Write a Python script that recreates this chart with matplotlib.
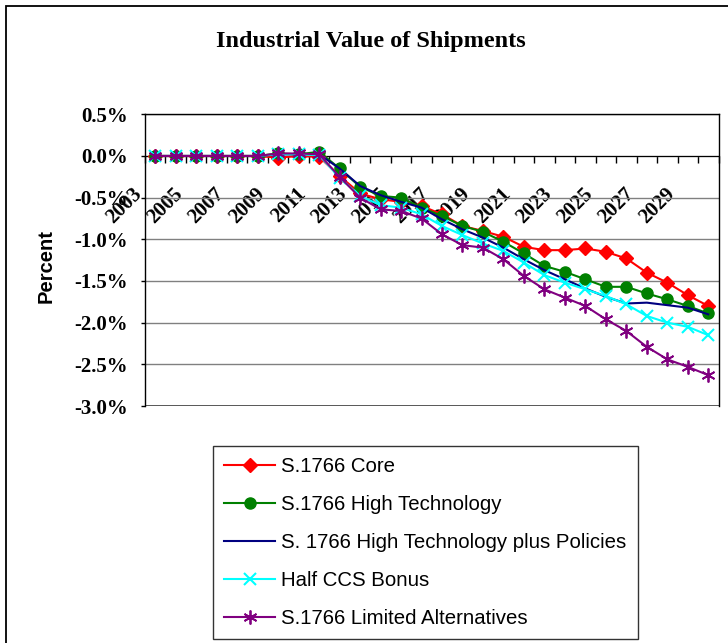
import matplotlib
matplotlib.use('Agg')
import matplotlib.pyplot as plt
from matplotlib.patches import Rectangle
from matplotlib.transforms import ScaledTranslation

# data (percent change)
years = list(range(2003, 2031))
core = [0, 0, 0, 0, 0, 0, -0.02, 0.0, -0.01, -0.24, -0.45, -0.52, -0.55, -0.60,
        -0.70, -0.84, -0.90, -0.97, -1.09, -1.13, -1.13, -1.11, -1.15, -1.23,
        -1.40, -1.52, -1.67, -1.80]
high_tech = [0, 0, 0, 0, 0, 0, 0.03, 0.02, 0.05, -0.15, -0.37, -0.48, -0.50, -0.62,
             -0.72, -0.84, -0.91, -1.03, -1.17, -1.32, -1.39, -1.48, -1.57, -1.57,
             -1.65, -1.72, -1.80, -1.89]
high_tech_pol = [0, 0, 0, 0, 0, 0, 0.02, 0.02, 0.02, -0.15, -0.36, -0.47, -0.55, -0.62,
                 -0.76, -0.88, -0.98, -1.10, -1.24, -1.37, -1.48, -1.59, -1.69, -1.77,
                 -1.76, -1.79, -1.82, -1.90]
half_ccs = [0, 0, 0, 0, 0, 0, 0.02, 0.02, 0.01, -0.26, -0.48, -0.59, -0.62, -0.70,
            -0.84, -0.95, -1.05, -1.14, -1.28, -1.43, -1.52, -1.60, -1.68, -1.78,
            -1.92, -2.00, -2.05, -2.15]
limited_alt = [0, 0, 0, 0, 0, 0, 0.03, 0.03, 0.02, -0.25, -0.50, -0.64, -0.66, -0.75,
               -0.94, -1.07, -1.10, -1.24, -1.44, -1.60, -1.70, -1.80, -1.96, -2.10,
               -2.29, -2.44, -2.53, -2.63]

series_names = ['S.1766 Core', 'S.1766 High Technology',
                'S. 1766 High Technology plus Policies', 'Half CCS Bonus',
                'S.1766 Limited Alternatives']
y_ticks = [0.5, 0.0, -0.5, -1.0, -1.5, -2.0, -2.5, -3.0]

W, H = 728, 643
fig = plt.figure(figsize=(W / 100, H / 100), dpi=100)
ax = fig.add_axes([145 / W, 1 - 406 / H, 573.5 / W, 291.7 / H])

x = list(range(len(years)))
ax.plot(x, core, color='#ff0000', lw=1.5, marker='D', ms=7, label=series_names[0], zorder=3)
ax.plot(x, high_tech, color='#008000', lw=1.5, marker='o', ms=8, label=series_names[1], zorder=3)
ax.plot(x, high_tech_pol, color='#000080', lw=1.5, label=series_names[2], zorder=3)
ax.plot(x, half_ccs, color='#00ffff', lw=1.5, marker='x', ms=8, mew=1.5, label=series_names[3], zorder=3)
ax.plot(x, limited_alt, color='#800080', lw=1.5, marker=(6, 2, 0), ms=10, mew=1.3,
        label=series_names[4], zorder=3)

ax.set_xlim(-0.5, len(years) - 0.5)
ax.set_ylim(-3.0, 0.5)

# value axis
ax.set_yticks(y_ticks)
ax.set_yticklabels(['%.1f%%' % v for v in y_ticks], fontfamily='Liberation Serif',
                   fontweight='bold', fontsize=15)
ax.tick_params(axis='y', length=3, width=1, pad=9, direction='out')
ax.grid(axis='y', color='#808080', lw=1)
ax.set_axisbelow(True)

# category axis crosses at zero
ax.spines['bottom'].set_position(('data', 0))
ax.spines['bottom'].set_zorder(2.5)
for s in ['left', 'top', 'right']:
    ax.spines[s].set_color('black')
    ax.spines[s].set_linewidth(1)
ax.axhline(-3.0, color='#404040', lw=1.2, zorder=1)

ax.set_xticks([i - 0.5 for i in range(len(years) + 1)], minor=True)
ax.set_xticks(x[::2])
ax.set_xticklabels([str(y) for y in years[::2]], rotation=45, ha='right', va='top',
                   fontfamily='Liberation Serif', fontweight='bold', fontsize=15)
ax.tick_params(axis='x', which='major', length=0, pad=20)
ax.tick_params(axis='x', which='minor', length=5, width=1, direction='out')
for lab in ax.get_xticklabels():
    lab.set_transform(lab.get_transform() + ScaledTranslation(-9 / 100, 0, fig.dpi_scale_trans))

ax.set_ylabel('Percent', fontfamily='Liberation Sans', fontweight='bold', fontsize=14.5, va='center')
ax.yaxis.set_label_coords(-0.173, 0.479)

fig.text(370.5 / W, 1 - 47 / H, 'Industrial Value of Shipments', ha='center', va='baseline',
         fontfamily='Liberation Serif', fontweight='bold', fontsize=17.5)

leg = fig.legend(loc='upper left', bbox_to_anchor=(213 / W, 1 - 446 / H), borderaxespad=0,
                 prop={'family': 'Liberation Sans', 'size': 14.7}, handlelength=2.5,
                 handletextpad=0.3, labelspacing=0.93, borderpad=0.55, fancybox=False,
                 frameon=True, edgecolor='black', numpoints=1)
leg.get_frame().set_linewidth(1)

# outer chart frame (only left/top visible in the crop)
fig.add_artist(Rectangle((6 / W, -0.05), 1.2, 1.05 - 6 / H, transform=fig.transFigure,
                         fill=False, edgecolor='black', lw=1.3))

fig.savefig('out.png', dpi=100)
